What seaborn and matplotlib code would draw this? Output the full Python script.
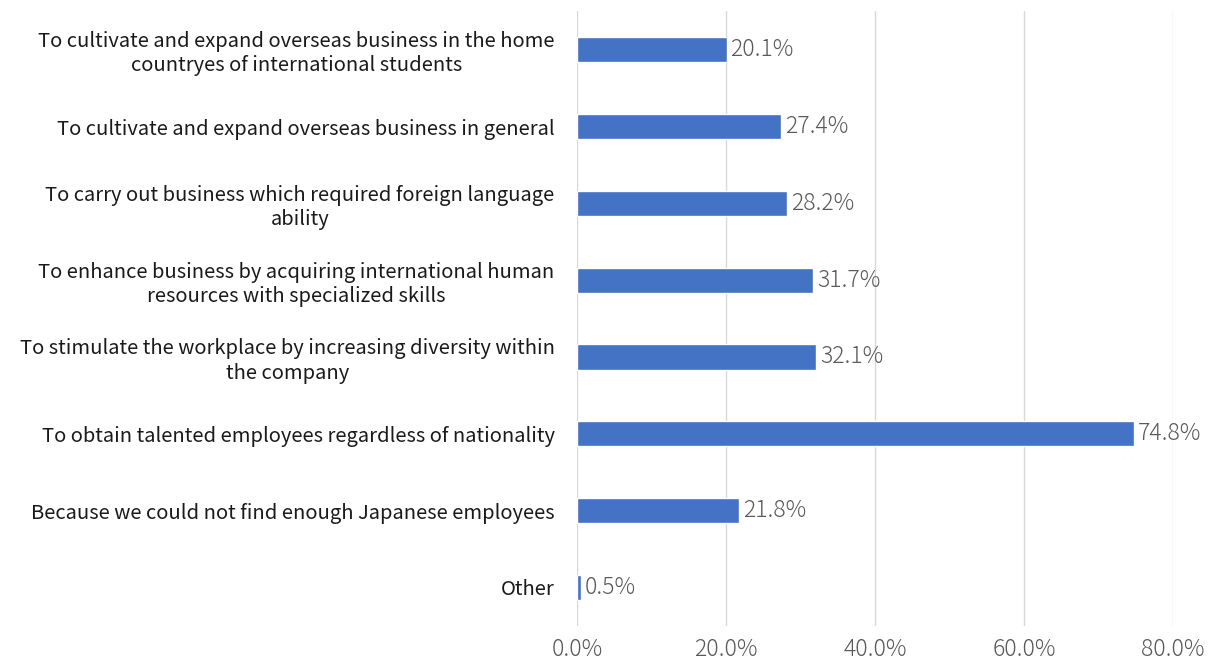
import matplotlib
matplotlib.use("Agg")
import matplotlib.pyplot as plt
import seaborn as sns
import pandas as pd

reasons = [
    "To cultivate and expand overseas business in the home\ncountryes of international students",
    "To cultivate and expand overseas business in general",
    "To carry out business which required foreign language\nability",
    "To enhance business by acquiring international human\nresources with specialized skills",
    "To stimulate the workplace by increasing diversity within\nthe company",
    "To obtain talented employees regardless of nationality",
    "Because we could not find enough Japanese employees",
    "Other",
]
shares = [20.1, 27.4, 28.2, 31.7, 32.1, 74.8, 21.8, 0.5]
xticks = [0, 20, 40, 60, 80]

sns.set_style("white")
plt.rcParams["font.family"] = ["Noto Sans CJK JP", "DejaVu Sans"]

df = pd.DataFrame({"reason": reasons, "share": shares})

fig = plt.figure(figsize=(12.18, 6.70), dpi=100)
ax = fig.add_axes([0.4737, 0.066, 0.4894, 0.917])
sns.barplot(data=df, x="share", y="reason", orient="h", color="#4472C4",
            width=0.33, saturation=1, ax=ax)

for i, v in enumerate(shares):
    ax.text(v + 0.5, i, f"{v:.1f}%", va="center", ha="left",
            fontsize=16.5, fontweight="light", color="#595959", clip_on=False)

ax.set_xlim(0, 80)
ax.set_ylim(7.5, -0.5)
ax.set_xticks(xticks)
ax.set_xticklabels([f"{t:.1f}%" for t in xticks], fontsize=16.5,
                   fontweight="light", color="#595959")
ax.tick_params(axis="x", length=0, pad=8)
ax.tick_params(axis="y", length=0, pad=16)
for lab in ax.get_yticklabels():
    lab.set_fontsize(14.5)
    lab.set_multialignment("center")
    lab.set_color("#1a1a1a")
ax.xaxis.grid(True, color="#d9d9d9", linewidth=1)
ax.set_axisbelow(True)
for s in ["top", "right", "bottom", "left"]:
    ax.spines[s].set_visible(False)
ax.set_xlabel("")
ax.set_ylabel("")

fig.savefig("out.png", dpi=100)
